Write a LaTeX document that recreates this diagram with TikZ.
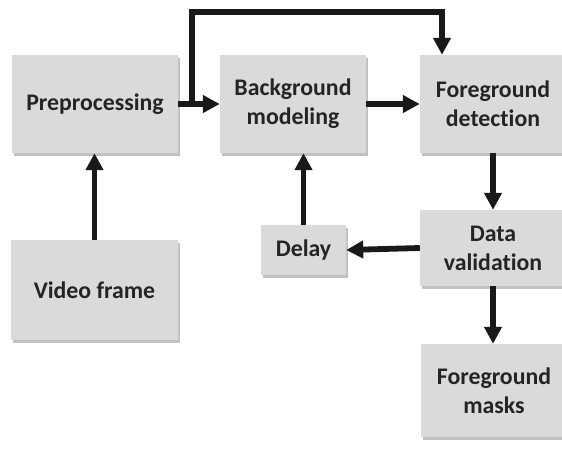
\documentclass[tikz,border=0pt]{standalone}
\usepackage{fontspec}
\setmainfont{Carlito}[Ligatures={NoCommon}]
\usetikzlibrary{arrows.meta,shadows}
\definecolor{boxfill}{RGB}{217,218,220}
\definecolor{boxtext}{RGB}{36,36,36}
\definecolor{arrowcol}{RGB}{26,24,25}
\tikzset{
  block/.style={fill=boxfill, draw=none, align=center, inner sep=0pt,
    text=boxtext, font=\fontsize{23.8}{29}\selectfont\bfseries,
    drop shadow={shadow xshift=1.5pt, shadow yshift=-2.5pt, opacity=0.35, fill=black!70}},
  flow/.style={draw=arrowcol, line width=5.8pt,
    -{Triangle[length=17pt,width=17pt]}, arrowcol},
}
\begin{document}
\begin{tikzpicture}[x=1pt,y=-1pt]
  \useasboundingbox (0,0) rectangle (562,451);

  % processing blocks
  \node[block, minimum width=166pt, minimum height=98pt]  (pre)   at (95,104)     {Preprocessing};
  \node[block, minimum width=146pt, minimum height=98pt]  (bg)    at (293,104)    {Background\\modeling};
  \node[block, minimum width=146pt, minimum height=98pt]  (fd)    at (493,104)    {Foreground\\detection};
  \node[block, minimum width=167pt, minimum height=100pt] (video) at (94.5,290)   {Video frame};
  \node[block, minimum width=85pt,  minimum height=50pt]  (delay) at (303.5,250)  {Delay};
  \node[block, minimum width=146pt, minimum height=76pt]  (dv)    at (493,248)    {Data\\validation};
  \node[block, minimum width=146pt, minimum height=93pt]  (masks) at (494,390.5)  {Foreground\\masks};

  % branch point and corner of the bypass line
  \coordinate (split) at (192,104);
  \coordinate (over)  at (442,12);

  % connectors
  \draw[flow] (pre.east) -- (bg.west);
  \draw[flow] (split) |- (over) -- (over |- fd.north);
  \draw[flow] (bg.east) -- (fd.west);
  \draw[flow] (fd.south) -- (dv.north);
  \draw[flow] (dv.west) -- (delay.east);
  \draw[flow] (delay.north) -- (delay.north |- bg.south);
  \draw[flow] (video.north) -- (video.north |- pre.south);
  \draw[flow] (dv.south) -- (dv.south |- masks.north);
\end{tikzpicture}
\end{document}
